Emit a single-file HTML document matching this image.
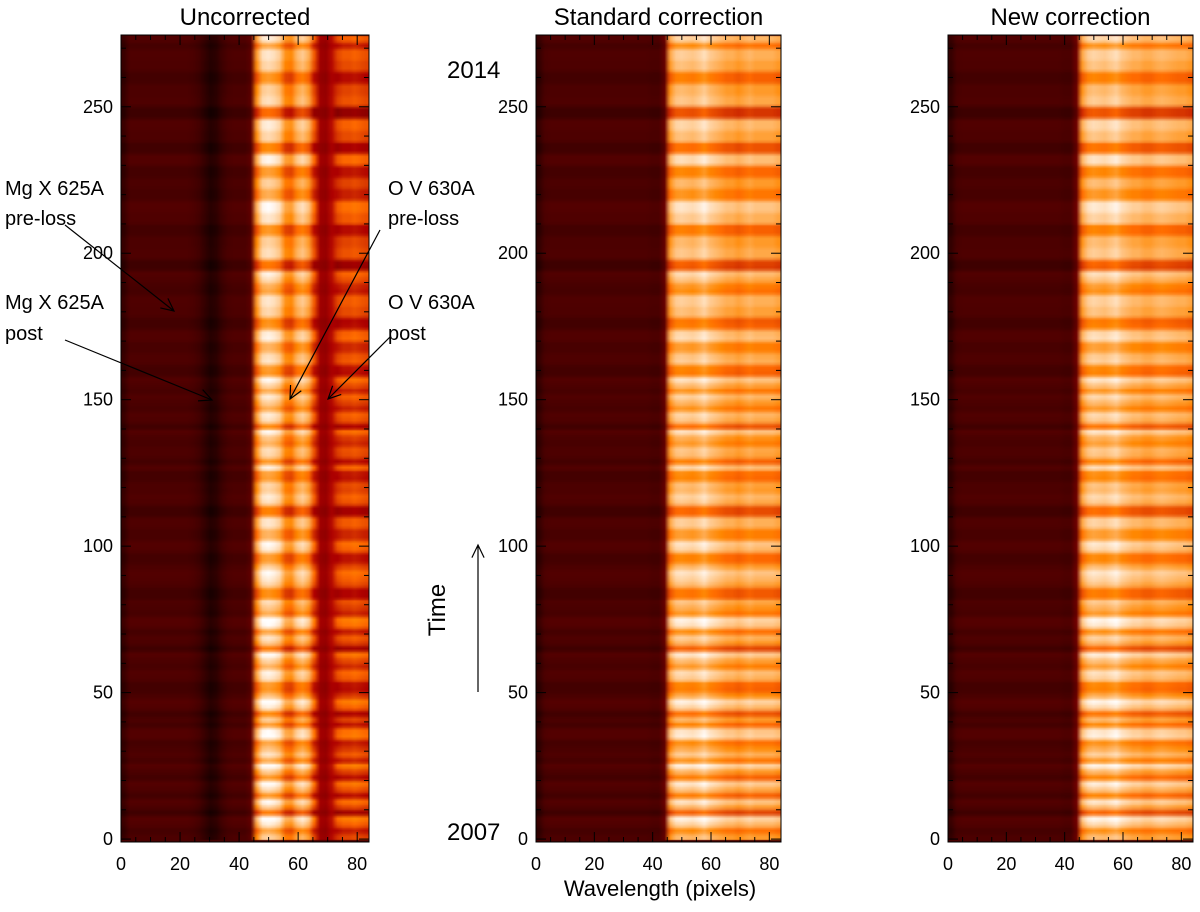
<!DOCTYPE html>
<html><head><meta charset="utf-8"><style>
body{margin:0;background:#fff;width:1200px;height:912px;overflow:hidden;position:relative;font-family:"Liberation Sans",sans-serif}
svg{position:absolute;left:0;top:0}
canvas{position:absolute}
</style></head><body>
<canvas id="c1" style="left:121px;top:35px" width="248" height="807"></canvas>
<canvas id="c2" style="left:536px;top:35px" width="245" height="807"></canvas>
<canvas id="c3" style="left:948px;top:35px" width="245" height="807"></canvas>
<svg id="s" width="1200" height="912"></svg>
<script>
// wavelength samples every 2 pixels (0..84)
const profUncorrected=[0.14,0.2,0.2,0.2,0.2,0.2,0.2,0.2,0.2,0.2,0.2,0.2,0.19,0.17,0.13,0.09,0.11,0.16,0.19,0.2,0.2,0.2,0.24,0.72,0.86,0.88,0.86,0.82,0.7,0.68,0.78,0.82,0.76,0.58,0.42,0.4,0.48,0.54,0.58,0.58,0.6,0.58,0.56];
const profStandard=[0.13,0.19,0.2,0.2,0.2,0.2,0.2,0.2,0.2,0.2,0.2,0.2,0.2,0.2,0.2,0.2,0.2,0.2,0.2,0.2,0.19,0.19,0.26,0.74,0.82,0.83,0.82,0.81,0.83,0.86,0.82,0.8,0.78,0.76,0.76,0.74,0.76,0.78,0.76,0.76,0.76,0.76,0.74];
const profNew=[0.13,0.19,0.2,0.2,0.2,0.2,0.2,0.2,0.2,0.2,0.2,0.2,0.2,0.2,0.2,0.2,0.2,0.2,0.2,0.2,0.19,0.19,0.28,0.74,0.82,0.84,0.83,0.82,0.84,0.86,0.82,0.8,0.78,0.78,0.76,0.76,0.78,0.79,0.78,0.77,0.76,0.76,0.74];
// time modulation, one value per 2 time steps (bottom to top)
const rowMod=[0.02,-0.04,0.06,0.1,-0.1,0.03,0.08,-0.06,0.04,0.09,-0.06,0.02,0.1,-0.03,0.05,0.0,-0.04,0.09,0.08,-0.05,0.02,-0.08,0.06,0.1,0.0,-0.06,-0.05,0.05,0.07,-0.02,0.03,0.09,-0.1,0.02,0.05,-0.04,0.08,0.1,-0.03,0.01,0.04,-0.07,-0.07,0.03,0.06,0.08,0.02,-0.05,-0.05,0.06,0.08,-0.02,-0.02,0.05,0.05,-0.09,-0.09,0.04,0.06,0.02,0.03,-0.05,-0.04,0.07,-0.06,0.03,0.04,-0.02,0.01,0.08,-0.08,0.04,0.06,-0.03,0.02,0.06,-0.03,0.03,0.08,-0.06,-0.05,0.05,0.04,-0.02,-0.02,0.07,0.06,-0.06,-0.07,0.03,0.03,0.05,0.05,-0.04,-0.02,0.04,0.07,-0.11,-0.1,0.04,0.04,0.02,0.02,-0.06,-0.06,0.05,0.05,0.08,0.08,-0.03,-0.03,0.02,0.02,-0.05,-0.05,0.07,0.07,-0.08,-0.08,0.03,0.03,0.06,0.06,-0.12,-0.12,0.04,0.04,0.02,0.02,-0.06,-0.06,0.03,0.03,0.05,0.05,-0.04,0.06];
const xTicks=[0,20,40,60,80];
const yTicks=[0,50,100,150,200,250];
const XMAX=84, YMIN=-1, YMAX=274.5, ROWSTEP=2;
function cmap(v){v=Math.max(0,Math.min(1,v));
 const r=Math.min(1,v/0.69),g=Math.max(0,Math.min(1,(v-0.47)/0.53)),b=Math.max(0,Math.min(1,(v-0.75)/0.25));
 return [r*255,g*255,b*255];}
function drawHeat(id,prof){
 const c=document.getElementById(id),ctx=c.getContext('2d');
 const W=prof.length,H=rowMod.length;
 const off=document.createElement('canvas');off.width=W;off.height=H;
 const o=off.getContext('2d'),img=o.createImageData(W,H);
 for(let r=0;r<H;r++)for(let i=0;i<W;i++){
  let v=prof[i];const m=rowMod[r];v+=m*(v>0.5?1.5:0.3);
  const [R,G,B]=cmap(v),k=((H-1-r)*W+i)*4;
  img.data[k]=R;img.data[k+1]=G;img.data[k+2]=B;img.data[k+3]=255;}
 o.putImageData(img,0,0);
 ctx.imageSmoothingEnabled=true;
 const pxPerY=c.height/(YMAX-YMIN);
 ctx.fillStyle='#4a0000';ctx.fillRect(0,0,c.width,c.height);
 for(let r=0;r<H;r++){
  const y0=r*ROWSTEP, yTop=(YMAX-(y0+ROWSTEP))*pxPerY;
  ctx.drawImage(off,0,H-1-r,W,1,0,Math.floor(yTop),c.width,Math.ceil(ROWSTEP*pxPerY)+1);
 }
}
drawHeat('c1',profUncorrected);drawHeat('c2',profStandard);drawHeat('c3',profNew);
const S=document.getElementById('s'),NS='http://www.w3.org/2000/svg';
function el(t,a,txt){const e=document.createElementNS(NS,t);for(const k in a)e.setAttribute(k,a[k]);if(txt!==undefined)e.textContent=txt;S.appendChild(e);return e;}
const panels=[{x0:121,w:248,title:'Uncorrected',n:'uncorrected'},{x0:536,w:245,title:'Standard correction',n:'standard'},{x0:948,w:245,title:'New correction',n:'new'}];
const T=35,B=842;
panels.forEach(p=>{
 const sx=v=>p.x0+v/XMAX*p.w, sy=v=>B-(v-YMIN)/(YMAX-YMIN)*(B-T);
 let e=el('rect',{x:p.x0,y:T,width:p.w,height:B-T,fill:'none',stroke:'#000','stroke-width':1});
 
 e=el('text',{x:p.x0+p.w/2,y:25,'text-anchor':'middle','font-size':24,fill:'#000'},p.title);
 
 for(let v=0;v<=XMAX;v+=5){const big=v%20===0,L=big?10:5;
  el('line',{x1:sx(v),x2:sx(v),y1:B,y2:B-L,stroke:'#000'});el('line',{x1:sx(v),x2:sx(v),y1:T,y2:T+L,stroke:'#000'});}
 for(let v=0;v<=YMAX;v+=10){const big=v%50===0,L=big?10:5;
  el('line',{x1:p.x0,x2:p.x0+L,y1:sy(v),y2:sy(v),stroke:'#000'});el('line',{x1:p.x0+p.w,x2:p.x0+p.w-L,y1:sy(v),y2:sy(v),stroke:'#000'});}
 xTicks.forEach(v=>{e=el('text',{x:sx(v),y:870,'text-anchor':'middle','font-size':18},String(v));
  });
 yTicks.forEach(v=>{e=el('text',{x:p.x0-8,y:sy(v)+6,'text-anchor':'end','font-size':18},String(v));
  });
});
function lab(x,y,t,n,sz,extra){const e=el('text',Object.assign({x:x,y:y,'font-size':sz||20},extra||{}),t);return e;}
lab(5,195,'Mg X 625A','label-mg-preloss');lab(5,225,'pre-loss','label-mg-preloss-2');
lab(5,309,'Mg X 625A','label-mg-post');lab(5,340,'post','label-mg-post-2');
lab(388,195,'O V 630A','label-ov-preloss');lab(388,225,'pre-loss','label-ov-preloss-2');
lab(388,309,'O V 630A','label-ov-post');lab(388,340,'post','label-ov-post-2');
lab(447,78,'2014','label-2014',24);lab(447,840,'2007','label-2007',24);
lab(660,896,'Wavelength (pixels)','x-axis-title',22,{'text-anchor':'middle'});
lab(445,610,'Time','y-axis-title-time',24,{'text-anchor':'middle',transform:'rotate(-90 445 610)'});
function arrow(x1,y1,x2,y2,n){const g=el('g',{stroke:'#000','stroke-width':1.2,fill:'none'});
 
 const a=Math.atan2(y2-y1,x2-x1),L=14,w=0.45;
 const l=document.createElementNS(NS,'path');
 l.setAttribute('d',`M${x1},${y1}L${x2},${y2}M${x2-L*Math.cos(a-w)},${y2-L*Math.sin(a-w)}L${x2},${y2}L${x2-L*Math.cos(a+w)},${y2-L*Math.sin(a+w)}`);
 g.appendChild(l);}
arrow(65,225,174,311,'arrow-mg-preloss');arrow(65,340,212,400,'arrow-mg-post');
arrow(380,230,290,399,'arrow-ov-preloss');arrow(390,337,328,399,'arrow-ov-post');
arrow(478,692,478,545,'arrow-time');
</script>
</body></html>
